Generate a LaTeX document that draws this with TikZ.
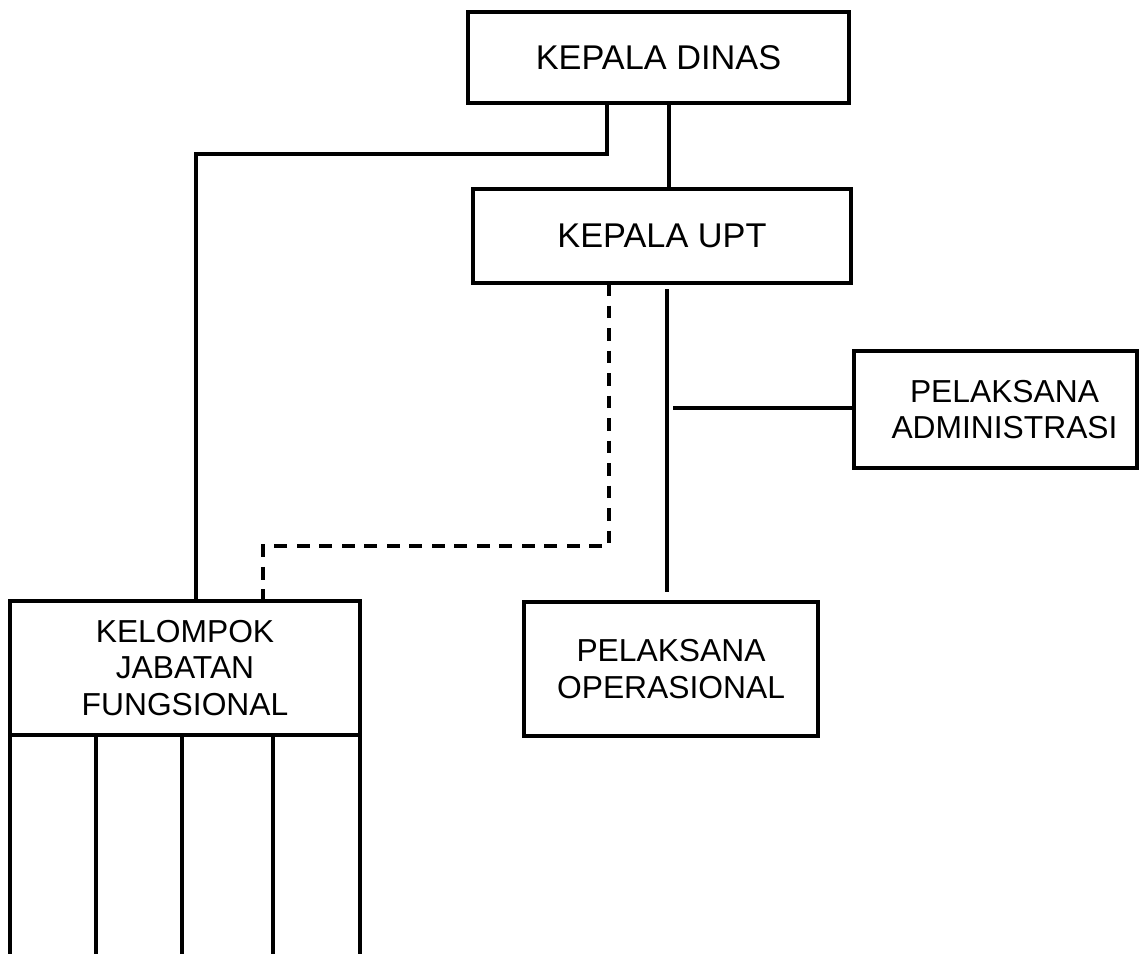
\documentclass[tikz,border=0pt]{standalone}
\usepackage{fontspec}
\setmainfont{Liberation Sans}
\usetikzlibrary{calc}
\tikzset{
  kotak/.style={draw, line width=2.5pt, align=center, inner sep=0pt, outer sep=0pt,
    font=\fontsize{22.6}{26.2}\selectfont},
  kotakatas/.style={kotak, font=\fontsize{24.4}{28}\selectfont},
  garis/.style={line width=2.5pt},
  putus/.style={line width=2.5pt, dash pattern=on 9pt off 7pt},
}
\begin{document}
\begin{tikzpicture}[x=0.025cm,y=-0.025cm]
  \useasboundingbox (0,0) rectangle (1140,954);
  \pgfmathsetmacro{\bawah}{954}
  \node[kotakatas, minimum width=9.525cm, minimum height=2.275cm] (dinas) at (658.5,57.5) {KEPALA DINAS};
  \node[kotakatas, minimum width=9.45cm, minimum height=2.35cm] (upt) at (662,236) {KEPALA UPT};
  \node[kotak, minimum width=7.075cm, minimum height=2.925cm] (admin) at (995.5,409.5)
    {\hspace*{0.45cm}PELAKSANA\\\hspace*{0.45cm}ADMINISTRASI};
  \node[kotak, minimum width=7.35cm, minimum height=3.35cm] (oper) at (671,669) {PELAKSANA\\OPERASIONAL};
  \node[kotak, minimum width=8.75cm, minimum height=3.35cm] (kjf) at (185,668) {KELOMPOK\\JABATAN\\FUNGSIONAL};
  % garis dinas ke kelompok fungsional
  \coordinate (kiri) at (607,154);
  \coordinate (kirib) at (196,154);
  \draw[garis] (dinas.south -| kiri) -- (kiri) -- (kirib) -- (kirib |- kjf.north);
  \coordinate (tengah) at (669,150);
  \draw[garis] (dinas.south -| tengah) -- (upt.north -| tengah);
  % garis koordinasi
  \coordinate (putusa) at (609,546);
  \coordinate (putusb) at (263,546);
  \draw[putus] (upt.south -| putusa) -- (putusa) -- (putusb) -- (putusb |- kjf.north);
  % garis pelaksana
  \coordinate (tulang) at (667,408);
  \draw[garis, shorten <=0.15cm, shorten >=0.25cm] (upt.south -| tulang) -- (oper.north -| tulang);
  \draw[garis, shorten <=0.15cm] (tulang) -- (tulang -| admin.west);
  \foreach \dx in {0,86,172,263,350}
    \draw[garis] ($(kjf.south west)+(\dx,0)$) -- ($(kjf.south west)+(\dx,\bawah-735)$);
\end{tikzpicture}
\end{document}
